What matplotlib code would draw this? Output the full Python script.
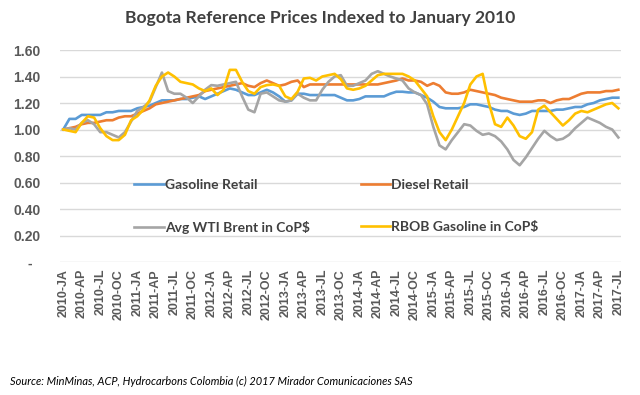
import matplotlib
matplotlib.use("Agg")
import matplotlib.pyplot as plt
import numpy as np

# monthly index values, Jan 2010 .. Jul 2017
gasoline_retail = [
    1.00, 1.08, 1.08, 1.11, 1.11, 1.11, 1.11, 1.13, 1.13, 1.14, 1.14, 1.14,
    1.16, 1.17, 1.18, 1.20, 1.22, 1.22, 1.22, 1.23, 1.23, 1.24, 1.25, 1.23,
    1.25, 1.27, 1.29, 1.31, 1.30, 1.28, 1.26, 1.26, 1.28, 1.30, 1.28, 1.25,
    1.21, 1.22, 1.27, 1.27, 1.26, 1.26, 1.26, 1.26, 1.26, 1.24, 1.22, 1.22,
    1.23, 1.25, 1.25, 1.25, 1.25, 1.27, 1.285, 1.285, 1.28, 1.28, 1.26, 1.24,
    1.21, 1.17, 1.16, 1.16, 1.16, 1.17, 1.19, 1.19, 1.18, 1.17, 1.15, 1.14,
    1.14, 1.12, 1.11, 1.12, 1.14, 1.14, 1.14, 1.14, 1.15, 1.15, 1.16, 1.17,
    1.17, 1.19, 1.20, 1.22, 1.23, 1.24, 1.24,
]
diesel_retail = [
    1.00, 1.01, 1.02, 1.04, 1.05, 1.05, 1.06, 1.07, 1.07, 1.09, 1.10, 1.10,
    1.12, 1.14, 1.16, 1.19, 1.20, 1.21, 1.22, 1.23, 1.24, 1.25, 1.26, 1.29,
    1.30, 1.31, 1.32, 1.33, 1.34, 1.35, 1.33, 1.32, 1.35, 1.37, 1.35, 1.33,
    1.34, 1.36, 1.37, 1.32, 1.34, 1.34, 1.34, 1.34, 1.34, 1.34, 1.34, 1.34,
    1.34, 1.34, 1.34, 1.34, 1.35, 1.36, 1.37, 1.385, 1.37, 1.37, 1.36, 1.33,
    1.35, 1.33, 1.28, 1.27, 1.27, 1.28, 1.30, 1.29, 1.28, 1.27, 1.26, 1.24,
    1.23, 1.22, 1.21, 1.21, 1.21, 1.22, 1.22, 1.20, 1.22, 1.23, 1.23, 1.25,
    1.27, 1.28, 1.28, 1.28, 1.29, 1.29, 1.30,
]
wti_brent = [
    1.00, 1.01, 1.00, 1.05, 1.07, 1.04, 0.98, 0.98, 0.96, 0.94, 0.98, 1.06,
    1.14, 1.17, 1.21, 1.32, 1.43, 1.29, 1.27, 1.27, 1.24, 1.20, 1.25, 1.30,
    1.335, 1.33, 1.34, 1.35, 1.36, 1.25, 1.15, 1.13, 1.27, 1.28, 1.25, 1.22,
    1.21, 1.22, 1.27, 1.24, 1.22, 1.22, 1.30, 1.36, 1.40, 1.41, 1.33, 1.33,
    1.35, 1.37, 1.42, 1.44, 1.42, 1.40, 1.385, 1.37, 1.31, 1.28, 1.26, 1.19,
    1.02, 0.88, 0.85, 0.92, 0.98, 1.04, 1.03, 0.99, 0.96, 0.97, 0.95, 0.91,
    0.85, 0.77, 0.73, 0.79, 0.86, 0.93, 0.99, 0.95, 0.92, 0.93, 0.96, 1.01,
    1.05, 1.09, 1.07, 1.05, 1.02, 1.00, 0.94,
]
rbob_gasoline = [
    1.00, 0.99, 0.98, 1.05, 1.10, 1.09, 1.01, 0.95, 0.92, 0.92, 0.96, 1.07,
    1.10, 1.15, 1.22, 1.33, 1.40, 1.43, 1.40, 1.36, 1.35, 1.34, 1.31, 1.29,
    1.31, 1.26, 1.30, 1.45, 1.45, 1.36, 1.29, 1.27, 1.32, 1.335, 1.34, 1.33,
    1.25, 1.23, 1.285, 1.385, 1.39, 1.37, 1.40, 1.41, 1.42, 1.38, 1.31, 1.30,
    1.31, 1.33, 1.37, 1.41, 1.42, 1.42, 1.42, 1.42, 1.40, 1.37, 1.31, 1.25,
    1.10, 0.98, 0.92, 1.00, 1.10, 1.20, 1.34, 1.40, 1.42, 1.20, 1.04, 1.02,
    1.09, 1.03, 0.95, 0.93, 0.98, 1.15, 1.18, 1.13, 1.08, 1.03, 1.07, 1.12,
    1.14, 1.13, 1.15, 1.17, 1.19, 1.20, 1.16,
]

years = list(range(2010, 2018))
quarter_names = ["JA", "AP", "JL", "OC"]
tick_labels = [f"{y}-{q}" for y in years for q in quarter_names][:31]
y_ticks = [0, 0.2, 0.4, 0.6, 0.8, 1.0, 1.2, 1.4, 1.6]

series = [
    ("Gasoline Retail", gasoline_retail, "#5B9BD5"),
    ("Diesel Retail", diesel_retail, "#ED7D31"),
    ("Avg WTI Brent in CoP$", wti_brent, "#A5A5A5"),
    ("RBOB Gasoline in CoP$", rbob_gasoline, "#FFC000"),
]

fig = plt.figure(figsize=(6.4, 3.95), dpi=100)
ax = fig.add_axes([0.094, 0.3367, 0.877, 0.5367])

months = np.arange(len(gasoline_retail))
lines = {}
for name, vals, col in series:
    lines[name], = ax.plot(months, vals, color=col, lw=1.9, label=name,
                           solid_joinstyle="round")

ax.set_xlim(-0.5, len(months) - 0.5)
ax.set_ylim(0, 1.6)
ax.set_yticks(y_ticks)
ax.set_yticklabels(["-  "] + [f"{v:.2f}" for v in y_ticks[1:]])
ax.set_xticks(np.arange(0, len(months), 3))
ax.set_xticklabels(tick_labels, rotation=90)
for lab in ax.get_yticklabels():
    lab.set_fontfamily("Liberation Sans")
    lab.set_fontweight("bold")
    lab.set_fontsize(10)
    lab.set_color("#595959")
for lab in ax.get_xticklabels():
    lab.set_fontfamily("Liberation Sans")
    lab.set_fontweight("bold")
    lab.set_fontsize(9)
    lab.set_color("#595959")
ax.tick_params(length=0)
ax.tick_params(axis="y", pad=14)
ax.tick_params(axis="x", pad=5)

ax.grid(axis="y", color="#D9D9D9", lw=1)
ax.set_axisbelow(True)
for sp in ax.spines.values():
    sp.set_visible(False)

order = ["Gasoline Retail", "Avg WTI Brent in CoP$", "Diesel Retail", "RBOB Gasoline in CoP$"]
leg = ax.legend([lines[n] for n in order], order, ncol=2, frameon=False,
                loc="upper left", bbox_to_anchor=(0.11, 0.45),
                prop={"family": "Lato", "weight": "bold", "size": 10},
                handlelength=2.1, handletextpad=0.1, labelspacing=2.15,
                columnspacing=3.65)
for t in leg.get_texts():
    t.set_color("#404040")

fig.text(0.5, 0.955, "Bogota Reference Prices Indexed to January 2010",
         ha="center", va="center", fontsize=12.6, fontweight="bold",
         family="Lato", color="#404040")
fig.text(0.016, 0.035,
         "Source: MinMinas, ACP, Hydrocarbons Colombia (c) 2017 Mirador Comunicaciones SAS",
         ha="left", va="center", fontsize=7.9, style="italic", family="Lato",
         color="black")

fig.savefig("out.png", dpi=100)
